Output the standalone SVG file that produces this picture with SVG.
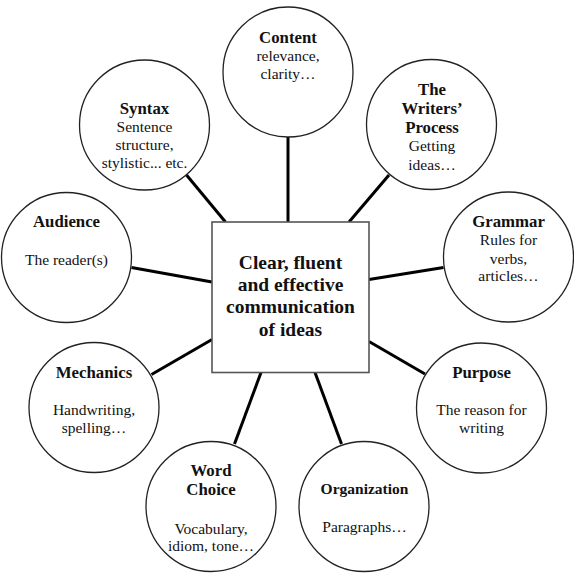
<svg xmlns="http://www.w3.org/2000/svg" width="574" height="583" viewBox="0 0 574 583" font-family="'Liberation Serif', Tinos, 'Times New Roman', 'DejaVu Serif', serif">
<style>
.bg{fill:#ffffff}
.node{fill:#ffffff;stroke:#222;stroke-width:1.3}
.box{fill:#ffffff;stroke:#555;stroke-width:1.6}
.edge{stroke:#000;stroke-width:3;fill:none}
text{font-family:'Liberation Serif',Tinos,'Times New Roman','DejaVu Serif',serif;fill:#111;text-anchor:middle}
.t{font-weight:bold;font-size:16.8px}
.d{font-size:15.5px}
.c{font-weight:bold;font-size:19.5px}
</style>
<rect class="bg" x="0" y="0" width="574" height="583"/>
<g id="connectors">
<line class="edge" x1="288" y1="137" x2="288" y2="222"/>
<line class="edge" x1="389" y1="175" x2="349" y2="222"/>
<line class="edge" x1="186.5" y1="175" x2="225.5" y2="222"/>
<line class="edge" x1="131.5" y1="267.5" x2="212" y2="282"/>
<line class="edge" x1="443.5" y1="267.5" x2="369" y2="279.5"/>
<line class="edge" x1="151.5" y1="374.5" x2="212" y2="339.5"/>
<line class="edge" x1="425" y1="374" x2="369" y2="341.5"/>
<line class="edge" x1="234.5" y1="444" x2="261" y2="372.5"/>
<line class="edge" x1="341.5" y1="444" x2="315" y2="372.5"/>
</g>
<g id="center">
<rect class="box" x="212" y="222" width="157" height="150.5"/>
<text class="c" x="290.5" y="268.5">Clear, fluent</text>
<text class="c" x="290.5" y="291">and effective</text>
<text class="c" x="290.5" y="313">communication</text>
<text class="c" x="290.5" y="336">of ideas</text>
</g>
<g id="content">
<circle class="node" cx="288" cy="72" r="65"/>
<text class="t" x="288" y="42.5">Content</text>
<text class="d" x="288" y="61">relevance,</text>
<text class="d" x="288" y="79">clarity…</text>
</g>
<g id="writers-process">
<circle class="node" cx="431.5" cy="124.5" r="65"/>
<text class="t" x="432" y="94.5">The</text>
<text class="t" x="432" y="113.5">Writers’</text>
<text class="t" x="432" y="132.5">Process</text>
<text class="d" x="432" y="151">Getting</text>
<text class="d" x="432" y="169.5">ideas…</text>
</g>
<g id="grammar">
<circle class="node" cx="508.5" cy="257" r="65"/>
<text class="t" x="508.5" y="226.5">Grammar</text>
<text class="d" x="508.5" y="245">Rules for</text>
<text class="d" x="508.5" y="263.5">verbs,</text>
<text class="d" x="508.5" y="281">articles…</text>
</g>
<g id="purpose">
<circle class="node" cx="481.5" cy="408" r="65"/>
<text class="t" x="481.5" y="377.5">Purpose</text>
<text class="d" x="481.5" y="415">The reason for</text>
<text class="d" x="481.5" y="433">writing</text>
</g>
<g id="organization">
<circle class="node" cx="364" cy="506.5" r="65"/>
<text class="t" x="364.5" y="494" style="font-size:15.5px">Organization</text>
<text class="d" x="364.5" y="531.5">Paragraphs…</text>
</g>
<g id="word-choice">
<circle class="node" cx="211" cy="506.5" r="65"/>
<text class="t" x="211" y="476">Word</text>
<text class="t" x="211" y="495">Choice</text>
<text class="d" x="211" y="533.5">Vocabulary,</text>
<text class="d" x="211" y="551">idiom, tone…</text>
</g>
<g id="mechanics">
<circle class="node" cx="94" cy="407.5" r="65"/>
<text class="t" x="94" y="377.5">Mechanics</text>
<text class="d" x="94" y="415">Handwriting,</text>
<text class="d" x="94" y="432.5">spelling…</text>
</g>
<g id="audience">
<circle class="node" cx="66.5" cy="257.5" r="65"/>
<text class="t" x="66.5" y="226.5">Audience</text>
<text class="d" x="66.5" y="265">The reader(s)</text>
</g>
<g id="syntax">
<circle class="node" cx="144.5" cy="125" r="65"/>
<text class="t" x="144.5" y="113.5">Syntax</text>
<text class="d" x="144.5" y="131.5">Sentence</text>
<text class="d" x="144.5" y="149.5">structure,</text>
<text class="d" x="144.5" y="167.5">stylistic... etc.</text>
</g>
</svg>
